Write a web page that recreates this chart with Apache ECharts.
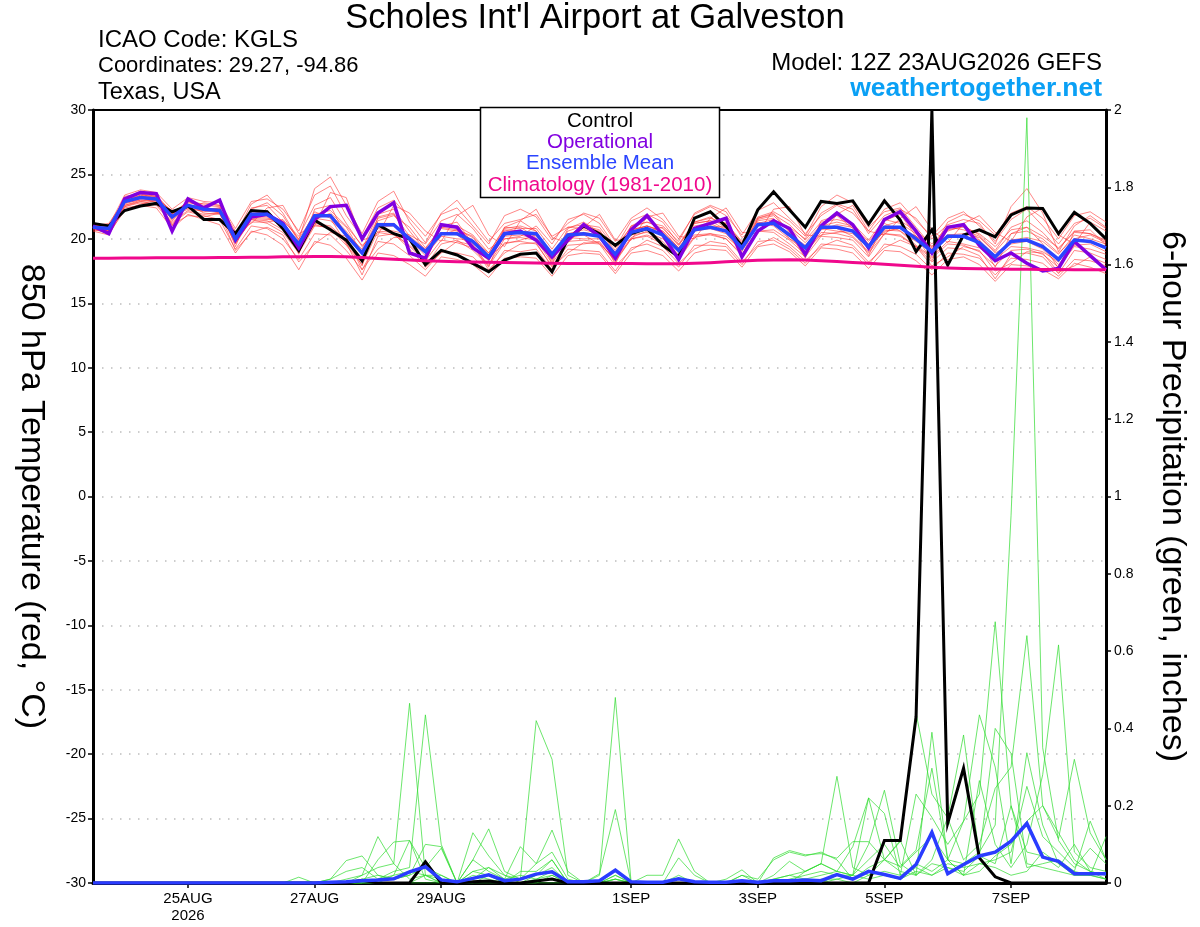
<!DOCTYPE html>
<html><head><meta charset="utf-8">
<script src="https://cdn.jsdelivr.net/npm/echarts@6/dist/echarts.min.js"></script>
<style>html,body{margin:0;padding:0;background:#fff}#c{width:1200px;height:927px}</style>
</head><body><div id="c"></div>
<script>
// forecast steps: every 6 h from 12Z 23AUG2026 (0 h) to 12Z 08SEP2026 (384 h)
const stepHours = 6;
const nSteps = 65;
const forecastHours = Array.from({length: nSteps}, (_, i) => i * stepHours);

// x-axis tick positions (hours since start) and labels
const tickHours = [36, 84, 132, 204, 252, 300, 348];
const tickLabels = ['25AUG\n2026', '27AUG', '29AUG', '1SEP', '3SEP', '5SEP', '7SEP'];

// 850 hPa temperature, deg C
const controlTemp = [21.2,21.0,22.2,22.55,22.75,22.1,22.55,21.5,21.5,20.4,
 22.2,22.1,20.8,19.1,21.45,20.7,19.9,18.3,21.1,20.4,
 20.0,18.0,19.1,18.75,18.1,17.45,18.35,18.8,18.9,17.45,
 20.0,21.0,20.4,19.5,20.4,20.8,19.5,18.6,21.6,22.1,
 20.95,19.45,22.25,23.65,22.25,20.9,22.9,22.75,22.95,21.15,
 22.95,21.45,19.0,20.7,17.97,20.3,20.7,20.15,21.85,22.4,
 22.35,20.4,22.05,21.2,20.0];
const operationalTemp = [21.0,20.4,23.1,23.6,23.5,20.6,23.1,22.4,23.0,19.9,
 21.7,21.9,21.2,19.3,21.5,22.5,22.6,20.0,22.0,22.8,
 18.9,18.5,21.1,20.9,19.3,18.5,20.4,20.6,19.9,18.6,
 19.9,21.1,20.2,18.5,20.7,21.8,20.3,18.4,20.8,21.2,
 21.6,18.6,20.6,21.4,20.8,18.8,21.0,22.0,21.1,19.3,
 21.5,22.1,20.6,18.9,20.9,21.1,19.5,18.3,18.9,18.1,
 17.5,17.7,19.8,18.7,17.6];
const meanTemp = [20.9,20.8,22.9,23.2,23.1,21.7,22.6,22.3,22.2,20.0,
 21.9,21.9,21.1,19.6,21.8,21.8,20.3,18.9,21.1,21.1,
 20.0,19.0,20.4,20.4,19.8,18.6,20.4,20.5,20.4,18.8,
 20.3,20.4,20.2,18.8,20.5,20.8,20.3,19.1,20.7,20.9,
 20.6,19.3,21.1,21.2,20.3,19.3,20.9,20.9,20.6,19.4,
 20.9,20.9,20.0,19.0,20.2,20.2,19.7,18.6,19.8,19.9,
 19.4,18.4,19.9,19.8,19.3];
const climoTemp = [18.50,18.50,18.51,18.52,18.53,18.53,18.54,18.54,18.55,18.56,
 18.57,18.58,18.60,18.61,18.62,18.62,18.60,18.55,18.48,18.42,
 18.36,18.30,18.26,18.23,18.20,18.18,18.16,18.14,18.12,18.10,
 18.09,18.08,18.08,18.08,18.08,18.07,18.06,18.07,18.10,18.15,
 18.22,18.28,18.33,18.36,18.37,18.35,18.30,18.24,18.17,18.10,
 18.02,17.95,17.88,17.80,17.74,17.70,17.67,17.65,17.64,17.63,
 17.62,17.61,17.60,17.60,17.60];

const memberTemp01 = [21.1,21.0,23.4,23.8,23.6,22.3,23.2,22.9,22.8,20.8,
 22.9,23.1,22.3,20.6,23.4,24.1,21.8,20.1,22.4,23.0,
 21.6,20.2,21.9,22.4,21.0,19.6,21.8,22.3,21.7,19.9,
 21.2,22.0,21.6,19.8,21.6,22.4,21.5,20.0,21.9,22.5,
 21.8,20.3,22.2,22.8,21.6,20.4,21.8,22.6,22.0,20.6,
 22.3,22.8,21.4,20.2,21.6,22.1,21.0,19.8,21.5,22.3,
 21.0,19.6,21.2,21.6,20.8];
const memberTemp02 = [20.7,20.5,22.5,22.8,22.6,21.2,22.1,21.8,21.5,19.2,
 21.0,20.8,20.0,18.4,20.4,20.3,19.1,17.6,19.8,19.6,
 18.7,17.6,19.0,18.9,18.6,17.4,19.1,19.0,19.2,17.6,
 19.2,19.1,19.0,17.5,19.3,19.6,19.1,17.8,19.5,19.5,
 19.4,18.0,19.8,19.9,19.2,18.1,19.6,19.5,19.3,18.0,
 19.6,19.4,18.8,17.6,18.9,18.8,18.5,17.2,18.5,18.4,
 18.1,17.1,18.4,18.3,17.9];
const memberTemp03 = [20.9,20.6,23.3,23.5,23.3,21.0,22.8,22.6,22.5,19.4,
 22.4,22.6,21.3,18.8,22.3,22.6,20.1,17.9,21.7,22.0,
 19.8,18.2,21.0,21.3,19.6,17.8,20.9,21.4,20.6,18.1,
 20.8,21.3,20.5,18.0,21.0,21.6,20.4,18.3,21.3,21.7,
 20.8,18.6,21.6,22.0,20.5,18.5,21.4,21.8,20.8,18.7,
 21.4,21.9,20.2,18.3,20.8,21.2,19.9,17.8,20.4,20.9,
 19.6,17.7,20.6,20.7,19.5];
const memberTemp04 = [20.8,20.9,22.7,23.1,23.2,22.0,22.4,22.1,22.3,20.5,
 21.6,21.5,21.4,20.2,22.6,23.2,21.2,19.4,20.8,20.6,
 20.3,19.6,21.4,21.9,20.8,19.2,20.0,20.2,21.0,19.6,
 21.5,21.9,21.2,19.4,20.9,21.3,21.0,19.8,22.0,22.6,
 22.1,20.1,21.0,21.4,20.9,20.0,22.0,22.7,22.3,20.4,
 21.8,22.3,21.6,20.0,21.1,21.5,21.2,19.6,22.5,23.9,
 22.0,19.0,21.0,21.8,20.9];
const memberTemp05 = [21.0,20.7,22.8,23.0,22.9,21.5,22.5,22.4,22.0,19.6,
 21.5,21.2,20.5,18.9,21.0,20.9,19.7,17.2,20.2,20.4,
 19.2,17.9,19.6,19.9,19.1,17.9,19.7,19.8,19.6,17.9,
 19.5,19.6,19.8,18.2,20.0,20.3,19.8,18.4,20.1,20.4,
 20.0,18.7,20.6,20.5,19.6,18.6,20.2,20.1,19.9,18.6,
 20.4,20.3,19.4,18.2,19.3,19.2,18.7,16.9,18.8,18.9,
 18.6,17.3,19.1,18.9,18.4];
const memberTemp06 = [21.1,20.9,23.0,23.4,23.0,21.9,22.9,22.7,22.6,20.3,
 22.7,23.4,22.0,19.9,23.9,24.8,22.6,20.4,22.9,23.7,
 21.3,19.7,22.0,23.0,21.4,19.8,21.2,21.5,21.9,20.2,
 20.9,21.1,20.9,19.3,21.4,21.9,21.3,19.6,21.3,21.6,
 21.2,19.8,21.7,22.1,21.4,20.2,22.5,23.4,22.8,20.9,
 22.1,22.4,20.9,19.4,20.6,21.0,20.3,19.1,20.9,21.4,
 20.5,19.2,20.6,20.4,19.9];
const memberTemp07 = [20.6,20.3,22.4,22.6,22.4,20.8,21.9,21.5,21.1,18.9,
 20.6,20.3,19.5,17.6,19.8,19.5,18.5,16.8,18.9,18.7,
 18.0,17.1,18.6,18.4,18.0,17.0,18.5,18.6,18.5,17.1,
 18.7,18.9,18.8,17.3,18.9,19.1,18.7,17.5,18.9,19.2,
 19.1,17.8,19.4,19.6,19.0,17.9,19.3,19.2,18.9,17.7,
 19.1,19.0,18.3,17.2,18.4,18.6,18.0,16.7,18.0,17.9,
 17.6,16.9,18.1,17.8,17.3];
const memberTemp08 = [20.9,20.8,23.1,23.3,23.3,22.1,22.7,22.0,21.9,20.1,
 21.8,21.7,20.9,19.3,21.6,21.4,20.4,19.2,21.9,22.3,
 20.6,19.1,20.5,20.3,19.4,18.3,20.6,20.9,20.1,18.4,
 20.1,20.0,20.0,18.9,20.6,21.0,20.6,19.3,20.3,20.4,
 20.2,19.1,21.2,21.5,20.8,19.7,21.1,20.8,20.2,19.0,
 20.7,20.6,19.8,19.1,21.3,21.9,21.4,20.3,22.0,22.5,
 21.6,20.0,21.8,22.1,21.3];
const memberTemp09 = [20.8,20.6,22.6,23.0,23.1,21.8,22.3,22.2,22.4,20.2,
 22.1,22.0,21.0,19.4,21.2,21.0,19.9,18.5,20.9,21.0,
 19.9,18.7,20.2,20.0,19.9,18.9,20.8,21.0,20.6,18.6,
 20.6,21.0,20.7,18.9,20.3,20.5,20.0,18.8,20.6,20.8,
 20.4,19.0,21.3,21.0,20.0,19.1,20.7,21.1,20.9,19.8,
 21.2,20.6,19.5,18.6,19.8,19.6,19.3,18.4,19.4,19.3,
 19.0,18.2,20.0,20.3,19.7];
const memberTemp10 = [21.0,21.1,22.9,23.2,22.8,21.6,22.6,22.5,22.1,19.9,
 21.3,21.3,21.5,20.0,21.9,22.2,21.0,19.5,20.5,20.3,
 19.5,18.4,20.9,20.7,20.2,18.6,19.6,19.9,20.3,19.0,
 20.1,20.3,19.6,18.4,20.1,20.6,20.9,19.5,21.2,21.4,
 20.7,19.5,21.5,21.8,20.6,19.0,20.3,20.5,20.7,19.5,
 21.0,21.4,20.6,19.6,20.9,20.7,20.2,18.9,19.6,19.8,
 19.2,18.0,19.5,19.6,19.0];
const memberTemp11 = [20.8,20.7,22.8,23.4,23.3,21.4,22.5,22.2,22.0,20.0,
 22.3,22.8,21.8,19.8,21.5,22.0,20.9,18.9,21.4,21.8,
 20.9,19.3,20.8,20.6,19.9,18.5,20.2,20.3,20.0,18.3,
 20.4,20.7,20.4,18.7,20.7,21.0,20.5,19.0,20.6,21.0,
 20.9,19.6,21.4,21.6,20.0,19.4,21.0,21.3,21.0,19.6,
 20.5,20.9,20.2,19.3,20.3,20.2,19.9,18.7,19.9,20.1,
 19.8,18.8,20.3,20.0,19.6];
const memberTemp12 = [20.9,20.9,22.6,22.9,23.0,21.9,22.6,22.3,22.4,20.0,
 21.7,21.6,21.2,19.7,22.1,21.6,19.6,18.2,21.2,21.2,
 20.1,18.9,20.3,20.7,20.1,18.7,20.7,20.6,20.4,18.7,
 20.4,20.5,20.3,18.9,20.7,21.0,20.6,19.3,21.0,21.2,
 20.6,19.3,21.0,21.3,20.4,19.5,20.8,20.6,20.4,19.3,
 20.6,20.8,20.2,19.2,20.3,20.4,20.1,19.0,20.4,20.6,
 20.0,18.9,20.0,19.8,19.4];
const memberTemp13 = [21.0,20.8,23.1,23.7,23.4,22.0,22.9,22.4,22.3,19.8,
 21.9,22.2,21.0,19.2,21.7,21.9,20.6,19.0,21.6,21.9,
 20.2,19.2,20.9,21.0,20.3,18.9,20.9,20.8,20.8,19.2,
 20.9,20.8,20.6,19.1,21.0,21.3,20.8,19.5,21.2,21.4,
 21.2,19.7,21.6,21.9,21.1,19.9,21.3,21.5,21.2,19.9,
 21.5,21.2,20.4,19.4,20.7,20.9,20.4,19.4,20.7,20.9,
 20.2,19.3,20.5,20.4,19.8];
const memberTemp14 = [20.7,20.6,22.5,22.9,22.7,21.3,22.2,21.9,22.0,19.7,
 21.5,21.4,20.7,19.0,21.1,20.8,19.5,18.0,20.6,20.5,
 19.4,18.3,19.9,19.7,19.3,18.0,20.0,20.1,19.9,18.1,
 19.8,19.9,19.7,18.3,20.0,20.2,19.6,18.5,20.2,20.3,
 20.0,18.8,20.6,20.7,19.9,18.8,20.5,20.4,20.1,18.9,
 20.4,20.2,19.4,18.5,19.6,19.5,19.0,17.9,19.1,19.2,
 18.8,17.8,19.4,19.2,18.8];
const memberTemp15 = [21.0,21.2,23.0,23.5,23.1,22.2,22.4,22.8,22.6,20.6,
 21.2,22.4,22.6,20.4,21.0,23.6,23.2,19.9,20.3,22.6,
 22.0,20.6,19.8,21.8,22.6,20.3,19.4,21.4,22.3,20.1,
 19.7,20.9,21.9,19.9,19.9,21.7,22.0,20.2,20.0,21.6,
 22.4,20.5,20.4,22.3,22.5,20.3,20.2,21.9,22.6,20.6,
 20.3,21.6,22.5,20.7,19.7,21.2,21.8,20.5,19.8,21.7,
 22.4,20.3,19.6,21.3,20.6];
const memberTemp16 = [20.8,20.4,22.2,22.7,23.0,21.1,21.8,21.7,22.0,19.1,
 20.5,20.9,20.3,18.2,19.6,20.5,20.2,17.6,19.2,20.1,
 20.2,17.8,18.9,19.8,19.5,17.6,18.9,19.6,19.7,17.8,
 18.9,19.7,19.6,17.9,19.1,19.9,19.4,18.1,19.2,19.8,
 19.6,18.2,19.5,20.1,19.4,18.3,19.4,19.9,19.5,18.2,
 19.3,19.9,19.4,17.9,18.6,19.4,19.1,17.5,18.1,19.0,
 18.9,17.4,17.9,18.6,18.1];

// 6-hour precipitation, inches
const controlPrecip = [0,0,0,0,0,0,0,0,0,0,
 0,0,0,0,0,0,0,0.007,0,0,
 0,0.055,0,0,0.003,0.005,0,0,0.005,0.01,
 0,0,0,0,0,0,0,0,0,0,
 0,0,0,0,0,0,0,0,0,0,
 0.11,0.11,0.43,2.0,0.155,0.297,0.065,0.016,0,0,
 0,0,0,0,0];
const meanPrecip = [0,0,0,0,0,0,0,0,0,0,
 0,0,0,0,0,0.002,0.003,0.006,0.008,0.011,
 0.029,0.042,0.008,0.003,0.012,0.021,0.006,0.01,0.023,0.029,
 0.003,0.003,0.006,0.033,0.003,0.002,0.002,0.011,0.003,0.002,
 0.002,0.006,0.002,0.006,0.006,0.008,0.006,0.022,0.01,0.03,
 0.022,0.012,0.048,0.131,0.024,0.048,0.07,0.08,0.108,0.154,
 0.067,0.056,0.024,0.024,0.024];
const memberPrecip01 = [0,0,0,0,0,0,0,0,0,0,
 0,0,0,0,0,0,0.01,0.02,0.04,0.05,
 0.465,0.02,0,0,0.03,0.02,0,0,0.01,0.03,
 0,0,0,0.02,0,0,0,0.01,0,0,
 0,0,0,0.01,0.02,0.03,0.05,0.03,0.02,0.06,
 0.1,0.04,0.08,0.12,0.06,0.05,0.08,0.15,0.95,1.98,
 0.35,0.11,0.05,0.03,0.02];
const memberPrecip02 = [0,0,0,0,0,0,0,0,0,0,
 0,0,0,0,0,0,0,0,0.01,0.03,
 0.04,0.435,0.1,0,0.01,0.04,0.02,0.01,0.05,0.08,
 0.01,0,0,0,0,0,0,0,0,0,
 0,0,0,0,0,0.01,0,0.02,0.02,0.1,
 0.24,0.05,0.02,0.39,0.06,0.02,0.05,0.04,0.02,0.03,
 0.08,0.05,0.03,0.02,0.12];
const memberPrecip03 = [0,0,0,0,0,0,0,0,0,0,
 0,0,0,0,0,0,0,0.02,0.12,0.05,
 0.01,0.02,0.02,0,0.06,0.14,0.03,0.01,0.42,0.32,
 0.02,0,0,0.01,0,0,0,0,0,0,
 0,0,0,0,0,0.03,0.05,0.276,0.04,0.02,
 0.06,0.11,0.02,0.06,0.17,0.383,0.07,0.05,0.2,0.04,
 0.05,0.06,0.03,0.16,0.06];
const memberPrecip04 = [0,0,0,0,0,0,0,0,0,0,
 0,0,0,0,0,0,0,0,0,0.02,
 0.11,0.04,0.09,0,0.13,0.07,0.02,0,0.02,0.06,
 0,0,0.02,0.48,0,0,0,0.02,0,0,
 0,0.02,0.01,0.06,0.08,0.07,0.08,0.06,0.01,0.03,
 0.02,0.01,0.05,0.03,0.06,0.16,0.23,0.676,0.2,0.08,
 0.07,0.04,0.1,0.03,0.01];
const memberPrecip05 = [0,0,0,0,0,0,0,0,0,0,
 0,0,0,0.015,0,0.01,0.058,0.07,0.02,0.01,
 0.02,0.1,0.094,0,0.03,0.04,0.01,0.094,0.05,0.137,
 0.03,0,0.024,0.19,0,0.02,0.02,0.114,0.03,0,
 0.01,0.034,0,0.065,0.084,0.073,0.076,0.064,0.107,0.107,
 0.06,0.107,0.44,0.23,0.168,0.06,0.1,0.245,0.3,0.64,
 0.2,0.115,0.32,0.13,0.06];
const memberPrecip06 = [0,0,0,0,0,0,0,0,0,0,
 0,0,0,0,0,0,0,0,0.06,0.106,
 0.11,0.01,0,0,0.01,0.02,0,0.03,0.03,0.06,
 0,0,0,0.02,0,0,0,0.065,0.02,0,
 0,0.02,0,0.02,0.056,0.03,0.05,0.03,0.094,0.22,
 0.06,0.043,0.085,0.297,0.06,0.02,0.265,0.1,0.04,0.1,
 0.28,0.616,0.08,0.04,0.03];
const memberPrecip07 = [0,0,0,0,0,0,0,0,0,0,
 0,0,0,0,0,0.01,0.03,0.04,0.01,0.02,
 0.03,0.02,0.01,0,0.06,0.03,0.01,0.02,0.01,0.02,
 0,0,0,0.01,0,0,0,0.01,0,0,
 0,0,0,0.01,0.02,0.01,0.02,0.03,0.02,0.22,
 0.18,0.02,0.23,0.17,0.1,0.16,0.435,0.3,0.05,0.337,
 0.15,0.05,0.02,0.02,0.01];
const memberPrecip08 = [0,0,0,0,0,0,0,0,0,0,
 0,0,0,0,0,0,0,0.01,0.02,0.01,
 0.02,0.04,0.02,0,0.02,0.01,0,0.01,0.02,0.04,
 0,0,0,0.01,0,0,0,0,0,0,
 0,0,0,0,0.01,0.02,0.03,0.02,0.01,0.04,
 0.06,0.03,0.02,0.05,0.04,0.03,0.07,0.4,0.335,0.05,
 0.04,0.03,0.02,0.02,0.01];
const memberPrecip09 = [0,0,0,0,0,0,0,0,0,0,
 0,0,0,0,0,0,0,0,0,0,
 0,0.02,0,0,0,0.02,0,0,0,0.02,
 0,0,0,0,0,0,0,0,0,0,
 0,0,0,0,0,0,0.01,0.01,0,0.02,
 0.03,0.02,0.04,0.02,0.05,0.04,0.05,0.06,0.08,0.25,
 0.12,0.08,0.04,0.09,0.05];
const memberPrecip10 = [0,0,0,0,0,0,0,0,0,0,
 0,0,0,0,0,0,0,0,0,0,
 0,0,0,0,0,0,0,0,0,0,
 0,0,0,0,0,0,0,0,0,0,
 0,0,0,0,0,0,0,0.01,0.02,0.01,
 0.02,0.01,0.03,0.02,0.04,0.02,0.03,0.07,0.1,0.16,
 0.2,0.13,0.06,0.03,0.02];

const memberTemps = [memberTemp01,memberTemp02,memberTemp03,memberTemp04,memberTemp05,memberTemp06,memberTemp07,
  memberTemp08,memberTemp09,memberTemp10,memberTemp11,memberTemp12,memberTemp13,memberTemp14,memberTemp15,memberTemp16];
const memberPrecips = [memberPrecip01,memberPrecip02,memberPrecip03,memberPrecip04,memberPrecip05,
  memberPrecip06,memberPrecip07,memberPrecip08,memberPrecip09,memberPrecip10];

const FONT = '"Liberation Sans", Arial, Helvetica, sans-serif';
const toPairs = arr => arr.map((v, i) => [forecastHours[i], v]);
const lineSeries = (arr, axis, color, width, z) => ({
  type: 'line', yAxisIndex: axis, data: toPairs(arr), symbol: 'none', showSymbol: false,
  silent: true, z: z, lineStyle: {color: color, width: width, join: 'miter'}, clip: true
});

const series = [];
memberTemps.forEach(a => series.push(lineSeries(a, 0, 'rgba(255,45,45,0.72)', 0.8, 2)));
memberPrecips.forEach(a => series.push(lineSeries(a, 1, 'rgba(50,220,50,0.9)', 0.8, 2)));
series.push(lineSeries(controlPrecip, 1, '#000000', 3, 3));
series.push(lineSeries(meanPrecip, 1, '#2a3cff', 3.5, 4));
series.push(lineSeries(controlTemp, 0, '#000000', 3, 3));
series.push(lineSeries(operationalTemp, 0, '#8200e0', 3.5, 4));
series.push(lineSeries(meanTemp, 0, '#2a44ff', 3.5, 5));
series.push(lineSeries(climoTemp, 0, '#f0088c', 3, 6));

const txt = (x, y, text, size, color, align, weight) => ({
  type: 'text', z: 100, x: x, y: y,
  style: {text: text, fill: color, align: align, verticalAlign: 'middle',
          font: (weight || 'normal') + ' ' + size + 'px ' + FONT}
});

const chart = echarts.init(document.getElementById('c'), null, {renderer: 'canvas'});
chart.setOption({
  animation: false,
  backgroundColor: '#ffffff',
  textStyle: {fontFamily: FONT},
  grid: {left: 93, right: 94, top: 110, bottom: 44, show: true, borderColor: '#000', borderWidth: 2, backgroundColor: 'transparent'},
  xAxis: [
    {
      type: 'value', min: 0, max: 384, position: 'bottom',
      splitLine: {show: false},
      axisLine: {show: true, onZero: false, lineStyle: {color: '#000', width: 3}},
      axisTick: {show: true, customValues: tickHours, length: 5, lineStyle: {color: '#000', width: 1.5}},
      axisLabel: {customValues: tickHours, color: '#000', fontSize: 15, lineHeight: 17, margin: 7,
        formatter: v => { const k = tickHours.indexOf(Math.round(v)); return k >= 0 ? tickLabels[k] : ''; }}
    },
    {
      type: 'value', min: 0, max: 384, position: 'top',
      splitLine: {show: false}, axisTick: {show: false}, axisLabel: {show: false},
      axisLine: {show: true, onZero: false, lineStyle: {color: '#000', width: 2}}
    }
  ],
  yAxis: [
    {
      type: 'value', min: -30, max: 30, interval: 5, position: 'left',
      name: '850 hPa Temperature (red, \u00B0C)', nameLocation: 'middle', nameRotate: -90, nameGap: 45,
      nameTextStyle: {fontSize: 34, color: '#000', fontFamily: FONT},
      axisLine: {show: true, onZero: false, lineStyle: {color: '#000', width: 3}},
      axisTick: {show: true, length: 5, lineStyle: {color: '#000', width: 1.5}},
      axisLabel: {color: '#000', fontSize: 14, margin: 7},
      splitLine: {show: true, showMinLine: false, showMaxLine: false,
        lineStyle: {color: '#bdbdbd', width: 1.5, type: [1.5, 7.5]}}
    },
    {
      type: 'value', min: 0, max: 2, interval: 0.2, position: 'right',
      name: '6-hour Precipitation (green, inches)', nameLocation: 'middle', nameRotate: -90, nameGap: 49,
      nameTextStyle: {fontSize: 34, color: '#000', fontFamily: FONT},
      axisLine: {show: true, onZero: false, lineStyle: {color: '#000', width: 3}},
      axisTick: {show: true, length: 5, lineStyle: {color: '#000', width: 1.5}},
      axisLabel: {color: '#000', fontSize: 14, margin: 8},
      splitLine: {show: false}
    }
  ],
  graphic: [
    txt(595, 18, "Scholes Int'l Airport at Galveston", 34.5, '#000', 'center'),
    txt(98, 40, 'ICAO Code: KGLS', 24, '#000', 'left'),
    txt(98, 66, 'Coordinates: 29.27, -94.86', 22, '#000', 'left'),
    txt(98, 93, 'Texas, USA', 23.5, '#000', 'left'),
    txt(1102, 63, 'Model: 12Z 23AUG2026 GEFS', 24, '#000', 'right'),
    txt(1102, 89, 'weathertogether.net', 26.5, '#0aa0f5', 'right', 'bold'),
    {type: 'rect', z: 99, shape: {x: 480.5, y: 107.5, width: 239, height: 90},
     style: {fill: '#fff', stroke: '#000', lineWidth: 1.5}},
    txt(600, 121, 'Control', 20.5, '#000', 'center'),
    txt(600, 142, 'Operational', 20.5, '#8200e0', 'center'),
    txt(600, 163, 'Ensemble Mean', 20.5, '#2a44ff', 'center'),
    txt(600, 185, 'Climatology (1981-2010)', 20.5, '#f0088c', 'center')
  ],
  series: series
});
</script></body></html>
